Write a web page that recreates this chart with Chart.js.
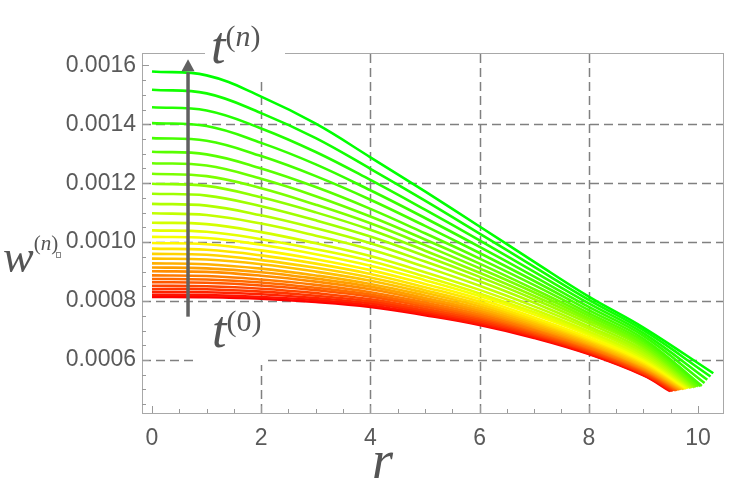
<!DOCTYPE html>
<html><head><meta charset="utf-8">
<script src="https://cdn.jsdelivr.net/npm/chart.js@4.4.1/dist/chart.umd.min.js"></script>
<style>html,body{margin:0;padding:0;background:#fff;overflow:hidden}#wrap{width:747px;height:497px;position:relative}</style>
</head><body><div id="wrap"><canvas id="c" width="747" height="497"></canvas></div>
<script>
// radial grid (r) shared by all curves; each curve then ends at its own boundary rEnd[n]
const rGrid = [0, 1, 2, 3, 4, 5, 6, 7, 8, 9];
// w^(n)(r) for n = 0 (red, t^(0)) ... 29 (green, t^(n))
const w00 = [0.000814,0.000813,0.000808,0.000797,0.000780,0.000752,0.000719,0.000675,0.000620,0.000548];
const w01 = [0.000821,0.000820,0.000814,0.000803,0.000785,0.000756,0.000722,0.000678,0.000622,0.000550];
const w02 = [0.000831,0.000830,0.000823,0.000810,0.000792,0.000762,0.000727,0.000682,0.000626,0.000553];
const w03 = [0.000841,0.000840,0.000832,0.000818,0.000799,0.000768,0.000732,0.000686,0.000629,0.000555];
const w04 = [0.000852,0.000850,0.000842,0.000827,0.000806,0.000774,0.000738,0.000690,0.000632,0.000558];
const w05 = [0.000864,0.000862,0.000853,0.000837,0.000815,0.000781,0.000744,0.000694,0.000636,0.000562];
const w06 = [0.000875,0.000873,0.000863,0.000845,0.000822,0.000788,0.000749,0.000699,0.000640,0.000565];
const w07 = [0.000887,0.000885,0.000873,0.000855,0.000830,0.000795,0.000755,0.000703,0.000643,0.000568];
const w08 = [0.000901,0.000899,0.000886,0.000866,0.000840,0.000803,0.000762,0.000709,0.000648,0.000571];
const w09 = [0.000914,0.000911,0.000898,0.000876,0.000849,0.000810,0.000768,0.000713,0.000652,0.000575];
const w10 = [0.000928,0.000925,0.000910,0.000887,0.000858,0.000819,0.000775,0.000719,0.000656,0.000578];
const w11 = [0.000944,0.000941,0.000925,0.000900,0.000869,0.000828,0.000782,0.000725,0.000661,0.000582];
const w12 = [0.000960,0.000957,0.000939,0.000913,0.000880,0.000837,0.000790,0.000731,0.000666,0.000587];
const w13 = [0.000978,0.000974,0.000955,0.000927,0.000892,0.000847,0.000798,0.000737,0.000671,0.000591];
const w14 = [0.000997,0.000993,0.000972,0.000942,0.000905,0.000858,0.000807,0.000744,0.000676,0.000596];
const w15 = [0.001018,0.001014,0.000991,0.000959,0.000920,0.000871,0.000817,0.000754,0.000684,0.000601];
const w16 = [0.001040,0.001035,0.001010,0.000976,0.000936,0.000883,0.000826,0.000762,0.000690,0.000606];
const w17 = [0.001066,0.001061,0.001034,0.000996,0.000953,0.000898,0.000838,0.000771,0.000697,0.000612];
const w18 = [0.001098,0.001092,0.001063,0.001022,0.000975,0.000916,0.000852,0.000782,0.000706,0.000619];
const w19 = [0.001130,0.001124,0.001091,0.001047,0.000996,0.000934,0.000867,0.000794,0.000714,0.000627];
const w20 = [0.001164,0.001158,0.001122,0.001074,0.001019,0.000953,0.000882,0.000806,0.000724,0.000634];
const w21 = [0.001198,0.001191,0.001152,0.001101,0.001042,0.000971,0.000896,0.000817,0.000733,0.000642];
const w22 = [0.001232,0.001224,0.001183,0.001127,0.001064,0.000990,0.000911,0.000829,0.000741,0.000649];
const w23 = [0.001268,0.001260,0.001215,0.001156,0.001087,0.001009,0.000927,0.000840,0.000750,0.000656];
const w24 = [0.001307,0.001298,0.001250,0.001187,0.001113,0.001030,0.000944,0.000854,0.000759,0.000664];
const w25 = [0.001353,0.001344,0.001292,0.001224,0.001144,0.001055,0.000963,0.000868,0.000769,0.000672];
const w26 = [0.001404,0.001394,0.001337,0.001264,0.001176,0.001082,0.000984,0.000883,0.000780,0.000682];
const w27 = [0.001458,0.001447,0.001386,0.001306,0.001211,0.001110,0.001006,0.000899,0.000792,0.000691];
const w28 = [0.001517,0.001505,0.001438,0.001353,0.001249,0.001141,0.001029,0.000916,0.000804,0.000701];
const w29 = [0.001579,0.001566,0.001494,0.001402,0.001288,0.001172,0.001053,0.000933,0.000815,0.000710];
// boundary point of each curve
const rEnd = [9.49,9.51,9.53,9.55,9.58,9.60,9.62,9.64,9.66,9.68,9.70,9.73,9.75,9.77,9.79,9.81,9.83,9.86,9.88,9.90,9.93,9.95,9.97,10.00,10.04,10.07,10.12,10.17,10.23,10.28];
const wEnd = [0.000494,0.000495,0.000495,0.000496,0.000497,0.000497,0.000498,0.000499,0.000499,0.000500,0.000501,0.000501,0.000502,0.000503,0.000503,0.000504,0.000505,0.000505,0.000506,0.000507,0.000507,0.000508,0.000509,0.000510,0.000511,0.000512,0.000522,0.000533,0.000544,0.000555];

const xTicks = [0, 2, 4, 6, 8, 10];
const xTickLabels = ['0', '2', '4', '6', '8', '10'];
const yTicks = [0.0006, 0.0008, 0.0010, 0.0012, 0.0014, 0.0016];
const yTickLabels = ['0.0006', '0.0008', '0.0010', '0.0012', '0.0014', '0.0016'];
const xGridLines = [2, 4, 6, 8];
const yGridLines = [0.0006, 0.0008, 0.0010, 0.0012, 0.0014];
const xMinorStep = 0.5, yMinorStep = 0.00005;

const curves = [w00,w01,w02,w03,w04,w05,w06,w07,w08,w09,w10,w11,w12,w13,w14,w15,w16,w17,w18,w19,w20,w21,w22,w23,w24,w25,w26,w27,w28,w29];
const N = curves.length;
function curveColor(n){
  const t = n/(N-1);
  if (t < 0.5) return 'rgb(255,' + Math.round(510*t) + ',0)';
  return 'rgb(' + Math.round(255*(2-2*t)) + ',255,0)';
}
const datasets = curves.map((w, n) => ({
  data: rGrid.map((r, i) => ({x: r, y: w[i]})).concat([{x: rEnd[n], y: wEnd[n]}]),
  borderColor: curveColor(n),
  borderWidth: 2.6,
  pointRadius: 0,
  fill: false,
  tension: 0.4,
  order: N - n
}));

const GRID = '#808080', FRAME = '#a8a8a8', TXT = '#555555';
const deco = {
  id: 'deco',
  beforeDatasetsDraw(chart){
    const {ctx, chartArea: a, scales: {x, y}} = chart;
    ctx.save();
    // grid lines
    ctx.strokeStyle = GRID; ctx.lineWidth = 1.5; ctx.setLineDash([9, 5]);
    xGridLines.forEach(v => { const px = Math.round(x.getPixelForValue(v)) + 0.5;
      ctx.beginPath(); ctx.moveTo(px, a.bottom); ctx.lineTo(px, a.top); ctx.stroke(); });
    yGridLines.forEach(v => { const py = Math.round(y.getPixelForValue(v)) + 0.5;
      ctx.beginPath(); ctx.moveTo(a.left, py); ctx.lineTo(a.right, py); ctx.stroke(); });
    ctx.setLineDash([]);
    // frame
    ctx.strokeStyle = FRAME; ctx.lineWidth = 1;
    ctx.strokeRect(Math.round(a.left) + 0.5, Math.round(a.top) + 0.5, Math.round(a.right - a.left), Math.round(a.bottom - a.top));
    // ticks (inward)
    ctx.strokeStyle = '#999999';
    for (let v = 0; v <= 10.0001; v += xMinorStep) {
      const major = xTicks.some(t => Math.abs(t - v) < 1e-6);
      const px = Math.round(x.getPixelForValue(v)) + 0.5;
      ctx.beginPath(); ctx.moveTo(px, a.bottom); ctx.lineTo(px, a.bottom - (major ? 7 : 4)); ctx.stroke();
    }
    for (let v = 0.00045; v <= 0.00164; v += yMinorStep) {
      const major = yTicks.some(t => Math.abs(t - v) < 1e-9);
      const py = Math.round(y.getPixelForValue(v)) + 0.5;
      ctx.beginPath(); ctx.moveTo(a.left, py); ctx.lineTo(a.left + (major ? 7 : 4), py); ctx.stroke();
    }
    // white label backgrounds
    ctx.fillStyle = '#ffffff';
    ctx.fillRect(205, 20, 80, 60);
    ctx.fillRect(197, 303, 68, 62);
    ctx.restore();
  },
  afterDatasetsDraw(chart){
    const {ctx, scales: {x, y}} = chart;
    ctx.save();
    // arrow
    const ax = x.getPixelForValue(0.66);
    const yb = y.getPixelForValue(0.000747), yh = y.getPixelForValue(0.00158), yt = y.getPixelForValue(0.001621);
    ctx.strokeStyle = '#616161'; ctx.fillStyle = '#616161'; ctx.lineWidth = 3.5;
    ctx.beginPath(); ctx.moveTo(ax, yb); ctx.lineTo(ax, yh + 1); ctx.stroke();
    ctx.beginPath(); ctx.moveTo(ax, yt); ctx.lineTo(ax - 6.5, yh); ctx.lineTo(ax + 6.5, yh); ctx.closePath(); ctx.fill();
    // math labels
    ctx.fillStyle = TXT; ctx.textBaseline = 'alphabetic'; ctx.textAlign = 'left';
    function sup(base, baseX, baseY, baseSize, parts, supY, supSize){
      ctx.font = 'italic ' + baseSize + 'px "Liberation Serif"';
      ctx.fillText(base, baseX, baseY);
      let cx = baseX + ctx.measureText(base).width;
      parts.forEach(([s, it]) => {
        ctx.font = (it ? 'italic ' : '') + supSize + 'px "Liberation Serif"';
        ctx.fillText(s, cx, supY); cx += ctx.measureText(s).width;
      });
      return cx;
    }
    sup('t', 211, 63, 52, [['(', 0], ['n', 1], [')', 0]], 46, 30);
    sup('t', 212, 347, 52, [['(', 0], ['0', 0], [')', 0]], 331, 30);
    const ex = sup('w', 3, 272, 46, [['(', 0], ['n', 1], [')', 0]], 250, 21);
    ctx.strokeStyle = '#888'; ctx.lineWidth = 1; ctx.strokeRect(Math.round(ex) - 1.5, 252.5, 4, 5);
    ctx.font = 'italic 54px "Liberation Serif"';
    ctx.fillText('r', 372, 478);
    ctx.restore();
  }
};

new Chart(document.getElementById('c'), {
  type: 'line',
  data: {datasets},
  options: {
    responsive: false, animation: false, devicePixelRatio: 1,
    layout: {padding: {left: 0, top: 53, right: 24, bottom: 0}},
    plugins: {legend: {display: false}, tooltip: {enabled: false}},
    scales: {
      x: {type: 'linear', min: -0.183, max: 10.458,
        grid: {display: false, drawTicks: false}, border: {display: false},
        afterBuildTicks: s => { s.ticks = xTicks.map(v => ({value: v})); },
        ticks: {font: {family: 'Liberation Sans', size: 23}, color: '#5a5a5a', padding: 12, maxRotation: 0, autoSkip: false,
          callback: (v, i) => xTickLabels[i]},
        afterFit: s => { s.height = 84; }},
      y: {type: 'linear', min: 0.00042, max: 0.001642,
        grid: {display: false, drawTicks: false}, border: {display: false},
        afterBuildTicks: s => { s.ticks = yTicks.map(v => ({value: v})); },
        ticks: {font: {family: 'Liberation Sans', size: 23}, color: '#5a5a5a', padding: 6, autoSkip: false,
          callback: (v, i) => yTickLabels[i]},
        afterFit: s => { s.width = 142; }}
    }
  },
  plugins: [deco]
});
</script></body></html>
